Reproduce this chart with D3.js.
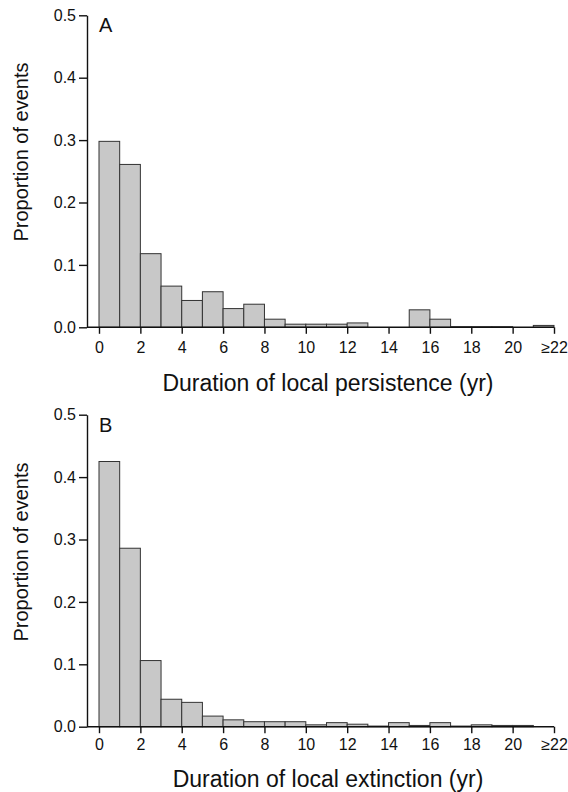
<!DOCTYPE html>
<html>
<head>
    <meta charset="utf-8">
    <title>Duration of local persistence and extinction</title>
    <script src="https://cdn.jsdelivr.net/npm/d3@7"></script>
    <style>
    body { margin: 0; background: #fff; }
    svg { font-family: "Liberation Sans", Arial, Helvetica, sans-serif; }
    .bar { fill: #c8c8c8; stroke: #333; stroke-width: 1px; }
    .axis path, .axis line { stroke: #111; stroke-width: 1.4px; }
    .axis text { font-size: 16px; fill: #111; }
    .title { font-size: 23px; fill: #111; }
    .ytitle { font-size: 20px; fill: #111; }
    .panel { font-size: 20px; fill: #111; }
    </style>
</head>
<body>
<script>
// one-year bins, 0-1 ... 21-22 (last bin is >=22)
var binStarts = d3.range(0, 22);
var tickValues = d3.range(0, 23, 2);
var tickLabels = ["0", "2", "4", "6", "8", "10", "12", "14", "16", "18", "20", "\u226522"];
var yTicks = [0, 0.1, 0.2, 0.3, 0.4, 0.5];

var persistence = [0.298, 0.261, 0.118, 0.066, 0.043, 0.057, 0.030, 0.037, 0.013, 0.005, 0.005,
                   0.005, 0.007, 0.000, 0.000, 0.028, 0.013, 0.001, 0.001, 0.001, 0.000, 0.003];
var extinction = [0.425, 0.286, 0.106, 0.044, 0.039, 0.017, 0.011, 0.008, 0.008, 0.008, 0.003,
                  0.0065, 0.004, 0.001, 0.0065, 0.002, 0.0065, 0.001, 0.003, 0.002, 0.002, 0.000];

var panels = [
    { label: "A", values: persistence, title: "Duration of local persistence (yr)",
      top: 15.3, bottom: 327.3, pad: 7.5, titleY: 390.7, ytitleY: 152 },
    { label: "B", values: extinction, title: "Duration of local extinction (yr)",
      top: 414.7, bottom: 726.7, pad: 5.5, titleY: 787, ytitleY: 552 }
];

var width = 568, height = 792;
var axisX = 87;

var svg = d3.select("body").append("svg")
    .attr("width", width)
    .attr("height", height);

var x = d3.scaleLinear().domain([0, 22]).range([99, 554]);

panels.forEach(function(p) {
    var y = d3.scaleLinear().domain([0, 0.5]).range([p.bottom, p.top]);
    var g = svg.append("g");

    g.selectAll(".bar")
        .data(p.values)
        .enter().append("rect")
        .attr("class", "bar")
        .attr("x", function(d, i) { return x(binStarts[i]); })
        .attr("width", function(d, i) { return x(binStarts[i] + 1) - x(binStarts[i]); })
        .attr("y", function(d) { return y(d); })
        .attr("height", function(d) { return y(0) - y(d); });

    // y axis
    g.append("g")
        .attr("class", "axis")
        .attr("transform", "translate(" + axisX + ",0)")
        .call(d3.axisLeft(y).tickValues(yTicks).tickFormat(d3.format(".1f"))
            .tickSize(8).tickSizeOuter(0).tickPadding(3));

    // x axis
    var xa = g.append("g")
        .attr("class", "axis")
        .attr("transform", "translate(0," + p.bottom + ")")
        .call(d3.axisBottom(x).tickValues(tickValues)
            .tickFormat(function(d, i) { return tickLabels[i]; })
            .tickSize(6.5).tickSizeOuter(0).tickPadding(p.pad));
    xa.select(".domain").remove();
    xa.append("line")
        .attr("x1", axisX).attr("x2", x(22))
        .attr("y1", 0).attr("y2", 0);

    g.append("text")
        .attr("class", "panel")
        .attr("x", 99)
        .attr("y", p.top + 17)
        .text(p.label);

    g.append("text")
        .attr("class", "title")
        .attr("text-anchor", "middle")
        .attr("x", 328)
        .attr("y", p.titleY)
        .text(p.title);

    g.append("text")
        .attr("class", "ytitle")
        .attr("text-anchor", "middle")
        .attr("transform", "translate(28," + p.ytitleY + ") rotate(-90)")
        .text("Proportion of events");
});
</script>
</body>
</html>
